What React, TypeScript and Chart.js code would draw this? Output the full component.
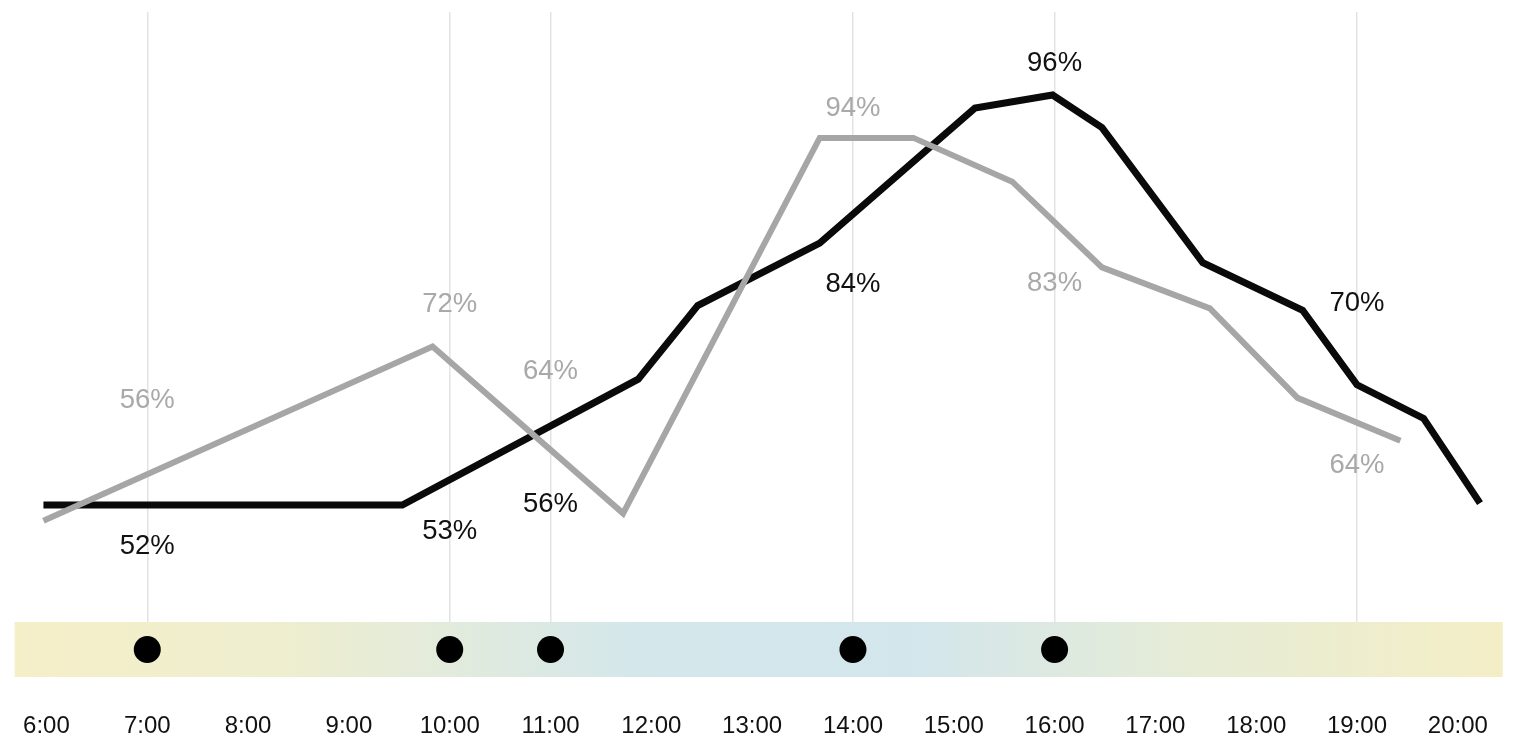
import React, { useEffect, useRef } from "react";
import { Chart, registerables } from "chart.js";

Chart.register(...registerables);

// ---- data ----
const hourTicks = [6, 7, 8, 9, 10, 11, 12, 13, 14, 15, 16, 17, 18, 19, 20];
const gridHours = [7, 10, 11, 14, 16, 19];
const dotHours = [7, 10, 11, 14, 16];

const blackHours = [5.97, 9.53, 11.87, 12.46, 13.67, 15.21, 15.98, 16.47, 17.47, 18.46, 19.0, 19.66, 20.22];
const blackValues = [52, 52, 65.5, 73.4, 80.1, 94.6, 96, 92.5, 78.0, 72.9, 64.9, 61.3, 52.2];

const grayHours = [5.97, 9.83, 11.72, 13.67, 14.6, 15.58, 16.47, 17.54, 18.41, 19.43];
const grayValues = [50.3, 69.0, 51.1, 91.4, 91.4, 86.7, 77.5, 73.1, 63.5, 58.9];

const labelHours = [7, 10, 11, 14, 16, 19];
const blackLabels = ["52%", "53%", "56%", "84%", "96%", "70%"];
const blackLabelAnchors = [47.8, 49.4, 52.3, 75.9, 99.6, 73.9];
const grayLabels = ["56%", "72%", "64%", "94%", "83%", "64%"];
const grayLabelAnchors = [63.5, 73.8, 66.6, 94.8, 76.0, 56.5];

const X_MIN = 5.685;
const X_MAX = 20.445;
const Y_MIN = 33.54;
const Y_MAX = 104.91;

const FONT = "'Liberation Sans', Arial, Helvetica, sans-serif";
const BLACK = "#0a0a0a";
const GRAY = "#a6a6a6";

const bandPlugin = {
  id: "bandPlugin",
  beforeDatasetsDraw(chart: any) {
    const { ctx, chartArea, scales } = chart;
    const bandH = 55;
    const top = chartArea.bottom - bandH;
    const g = ctx.createLinearGradient(chartArea.left, 0, chartArea.right, 0);
    g.addColorStop(0, "#f5efc8");
    g.addColorStop(0.18, "#eeeecf");
    g.addColorStop(0.42, "#d4e7eb");
    g.addColorStop(0.6, "#d3e6ec");
    g.addColorStop(0.8, "#e7ecd5");
    g.addColorStop(1, "#f4eec6");
    ctx.save();
    ctx.fillStyle = g;
    ctx.fillRect(chartArea.left, top, chartArea.right - chartArea.left, bandH);
    ctx.fillStyle = "#000";
    const cy = top + bandH / 2;
    dotHours.forEach((h) => {
      const x = scales.x.getPixelForValue(h);
      ctx.beginPath();
      ctx.arc(x, cy, 13.5, 0, Math.PI * 2);
      ctx.fill();
    });
    ctx.restore();
  },
};

const labelPlugin = {
  id: "labelPlugin",
  afterDatasetsDraw(chart: any) {
    const { ctx, scales } = chart;
    const size = 27.5;
    ctx.save();
    ctx.font = `${size}px ${FONT}`;
    ctx.textAlign = "center";
    ctx.textBaseline = "alphabetic";
    const draw = (texts: string[], anchors: number[], color: string) => {
      ctx.fillStyle = color;
      texts.forEach((t, i) => {
        const x = scales.x.getPixelForValue(labelHours[i]);
        const y = scales.y.getPixelForValue(anchors[i]);
        ctx.fillText(t, x, y + size * 0.358);
      });
    };
    draw(blackLabels, blackLabelAnchors, "#111111");
    draw(grayLabels, grayLabelAnchors, "#a9a9a9");
    ctx.restore();
  },
};

export default function App() {
  const ref = useRef<HTMLCanvasElement | null>(null);

  useEffect(() => {
    if (!ref.current) return;
    const chart = new Chart(ref.current, {
      type: "line",
      data: {
        datasets: [
          {
            label: "gray",
            data: grayHours.map((h, i) => ({ x: h, y: grayValues[i] })),
            borderColor: GRAY,
            borderWidth: 6,
            pointRadius: 0,
            tension: 0,
            fill: false,
          },
          {
            label: "black",
            data: blackHours.map((h, i) => ({ x: h, y: blackValues[i] })),
            borderColor: BLACK,
            borderWidth: 7,
            pointRadius: 0,
            tension: 0,
            fill: false,
          },
        ],
      },
      options: {
        animation: false,
        responsive: true,
        maintainAspectRatio: false,
        events: [],
        layout: { padding: { left: 14.7, right: 15.3, top: 12, bottom: 0 } },
        plugins: { legend: { display: false }, tooltip: { enabled: false } },
        scales: {
          x: {
            type: "linear",
            min: X_MIN,
            max: X_MAX,
            afterBuildTicks: (scale: any) => {
              scale.ticks = hourTicks.map((v) => ({ value: v }));
            },
            afterFit: (scale: any) => {
              scale.height = 61;
              scale.paddingLeft = 0;
              scale.paddingRight = 0;
            },
            border: { display: false },
            grid: {
              drawTicks: false,
              lineWidth: 1.5,
              color: (c: any) =>
                c.tick && gridHours.includes(c.tick.value) ? "#e3e3e3" : "rgba(0,0,0,0)",
            },
            ticks: {
              autoSkip: false,
              maxRotation: 0,
              padding: 35,
              color: "#111111",
              font: { family: FONT, size: 24 },
              callback: (v: any) => `${v}:00`,
            },
          },
          y: {
            type: "linear",
            display: false,
            min: Y_MIN,
            max: Y_MAX,
          },
        },
      },
      plugins: [bandPlugin, labelPlugin],
    });
    return () => chart.destroy();
  }, []);

  return (
    <div style={{ position: "absolute", left: 0, top: 0, width: 1518, height: 738, background: "#fff" }}>
      <canvas ref={ref} />
    </div>
  );
}
